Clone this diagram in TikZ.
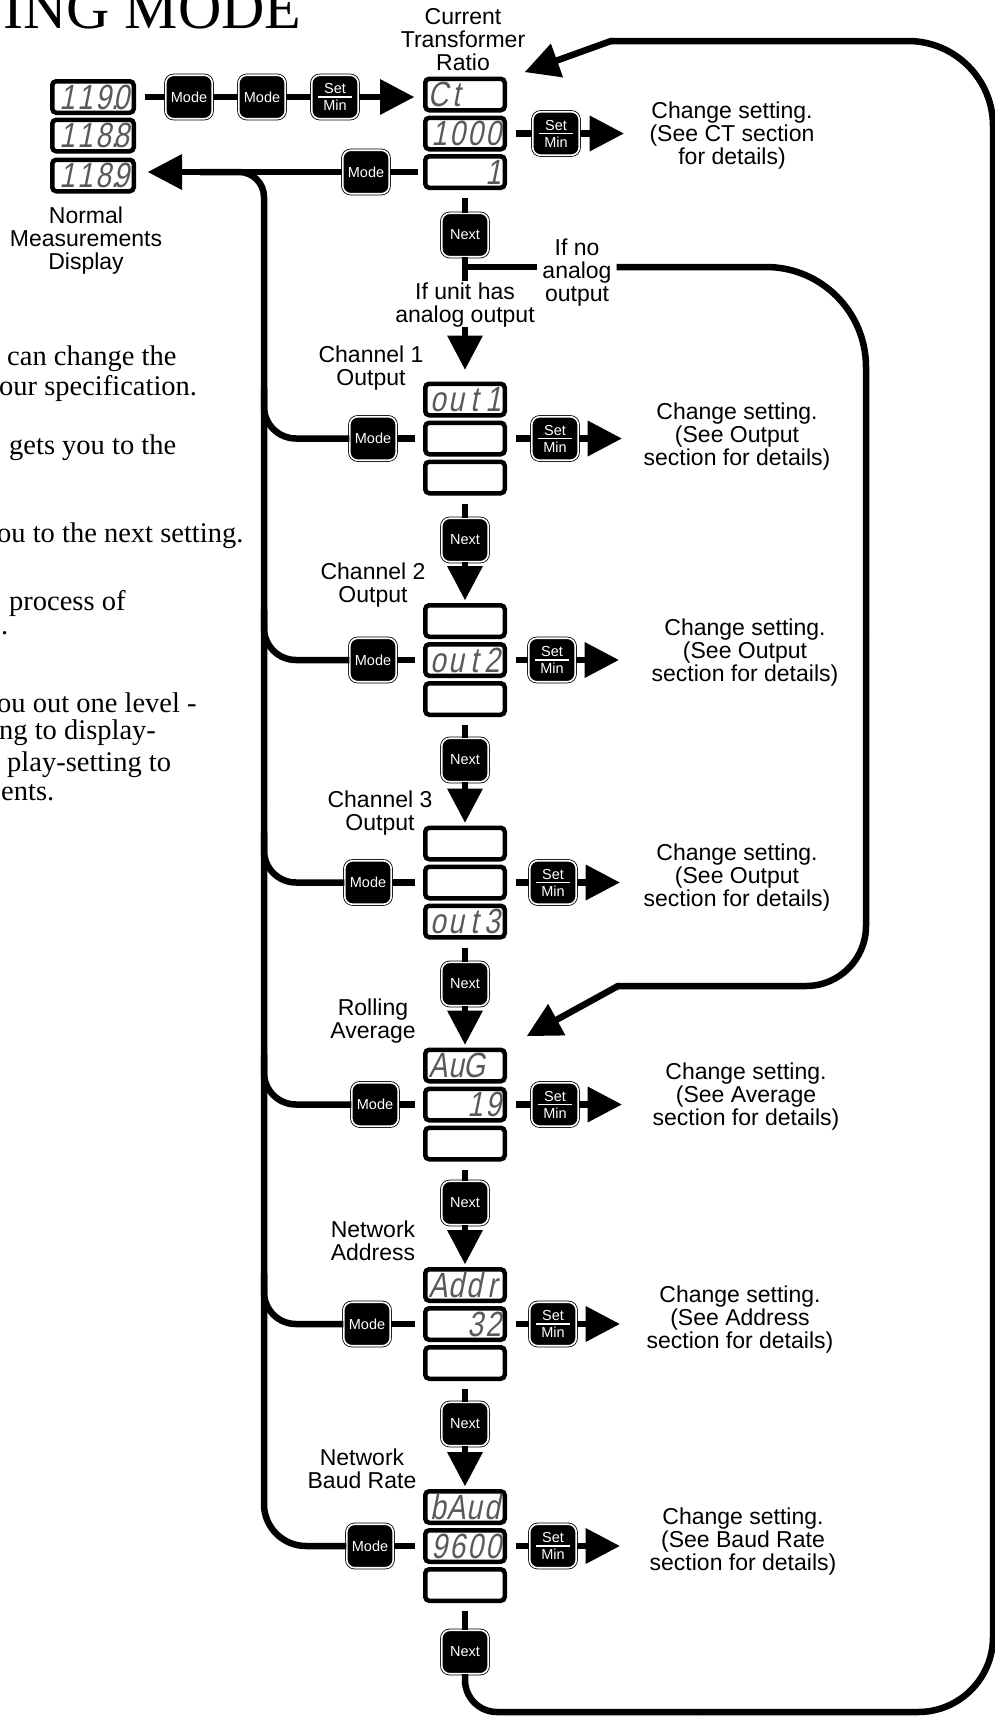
\documentclass[tikz,border=0pt]{standalone}
\usepackage{fontspec}
\setmainfont{Liberation Sans}
\newfontfamily\serifface{Liberation Serif}
\newfontfamily\lcdface[FakeSlant=0.2,FakeStretch=0.8]{Liberation Sans}
\usetikzlibrary{arrows.meta,calc}
\newcommand\lc[2][c]{\makebox[18pt][#1]{#2}}
\begin{document}
\begin{tikzpicture}[x=1pt,y=-1pt,
  conn/.style={line width=6.5pt},
  arr/.style={line width=6.5pt,-{Triangle[length=34pt,width=36pt,line width=0pt]}},
  lcd/.style={draw=black,line width=4.5pt,fill=white,rounded corners=4pt,minimum width=79.5pt,minimum height=31.5pt,inner sep=0pt},
  lcdtxt/.style={font=\lcdface\fontsize{35}{35}\selectfont,text=black!65,inner sep=0pt},
  btn/.style={draw=black,line width=0.8pt,double=white,double distance=1.6pt,fill=black,rounded corners=8pt,minimum width=46.5pt,minimum height=43.5pt,inner sep=0pt,text=white,font=\fontsize{14.5}{17}\selectfont,align=center},
  setmin/.style={btn,path picture={\draw[white,line width=1.3pt] ([xshift=-17pt]path picture bounding box.center) -- ([xshift=17pt]path picture bounding box.center);}},
  lbl/.style={font=\fontsize{23}{23}\selectfont,align=center,inner sep=0pt},
  body/.style={font=\serifface\fontsize{28.5}{28.5}\selectfont,anchor=base west,inner sep=0pt}]
\useasboundingbox (0,0) rectangle (995,1717);
\fill[white] (0,0) rectangle (995,1717);

% ---------- title and body text ----------
\node[font=\serifface\fontsize{60}{60}\selectfont,anchor=base west,inner sep=0pt] (title) at (3,28) {ING MODE};
\node[body] (p1) at (7,365) {can change the};
\node[body] (p2) at (-1,395) {our specification.};
\node[body] (p3) at (9,454.5) {gets you to the};
\node[body] (p4) at (-3,542) {ou to the next setting.};
\node[body] (p5) at (9,610.5) {process of};
\node[body] (p6) at (1,634.5) {.};
\node[body] (p7) at (-3,712.5) {ou out one level -};
\node[body] (p8) at (-1,739) {ng to display-};
\node[body] (p9) at (7,771.5) {play-setting to};
\node[body] (p10) at (1,800.5) {ents.};

% ---------- normal display ----------
\node[lcd,minimum width=81.5pt] (n1) at (93,97) {};
\node[lcd,minimum width=81.5pt] (n2) at (93,135.5) {};
\node[lcd,minimum width=81.5pt] (n3) at (93,175.5) {};
\node[lcdtxt] (tn1) at (n1) {\lc[r]{1}\lc[r]{1}\lc[r]{9\rlap{.}}\lc[r]{0}};
\node[lcdtxt] (tn2) at (n2) {\lc[r]{1}\lc[r]{1}\lc[r]{8\rlap{.}}\lc[r]{8}};
\node[lcdtxt] (tn3) at (n3) {\lc[r]{1}\lc[r]{1}\lc[r]{8\rlap{.}}\lc[r]{9}};
\node[lbl] (nlab) at (86,241) {Normal\\Measurements\\Display};

% ---------- top row ----------
\node[btn] (m0a) at (189,97) {Mode};
\node[btn] (m0b) at (262,97) {Mode};
\node[setmin] (s0a) at (335,97) {Set\\Min};
\draw[conn] ([xshift=9pt]n1.east) -- (m0a.west);
\draw[conn] (m0a.east) -- (m0b.west);
\draw[conn] (m0b.east) -- (s0a.west);

% ---------- CT ----------
\node[lcd] (ct1) at (465,94.5) {};
\node[lcd] (ct2) at (465,133.5) {};
\node[lcd] (ct3) at (465,172) {};
\node[lcdtxt] (tct1) at (ct1) {\lc{C}\lc{t}\lc{}\lc{}};
\node[lcdtxt] (tct2) at (ct2) {\lc[r]{1}\lc[r]{0}\lc[r]{0}\lc[r]{0}};
\node[lcdtxt] (tct3) at (ct3) {\lc{}\lc{}\lc{}\lc[r]{1}};
\node[lbl] (lct) at (463,40) {Current\\Transformer\\Ratio};
\draw[arr,shorten >=9pt] (s0a.east) -- (s0a.east -| ct1.west);
\node[setmin] (sct) at (556,133.5) {Set\\Min};
\coordinate (pct) at ([xshift=44pt]sct.east);
\draw[conn] ([xshift=9pt]ct2.east) -- (sct.west);
\draw[arr] (sct.east) -- (pct);
\node[lbl] (cct) at (732,136) {Change setting.\\(See CT section\\for details)};
\node[btn] (mct) at (366,172) {Mode};
\draw[conn] ([xshift=-5pt]ct3.west) -- (mct.east);
\draw[arr,shorten >=12pt] (mct.west) -- (mct.west -| n3.east);

\node[btn] (x0) at (465,235) {Next};
\draw[conn] ([yshift=-8pt]ct3.south) -- (x0.north);
\coordinate (j0) at (465,267);
\node[lbl] (unit) at (465,305) {If unit has\\analog output};
\draw[conn] (x0.south) -- ([yshift=2pt]unit.north);
\node[lbl,inner xsep=5pt] (noan) at (577,273) {If no\\analog\\output};
\draw[conn] (j0) -- (j0 -| noan.west);

% loop A (no analog output)
\coordinate (ra1) at (866,267);
\coordinate (ram) at (866,640);
\coordinate (ra2) at (866,986);
\coordinate (ra3) at (618,986);
\coordinate (tipA) at (527,1036);
\draw[conn,rounded corners=100] (j0 -| noan.east) -- (ra1) -- (ram);
\draw[conn,rounded corners=60,line cap=round] (ram) -- (ra2) -- (ra3);
\draw[arr,line cap=round] (ra3) -- (tipA);

% left vertical line
\coordinate (vt) at (264,172);
\coordinate (vtl) at (200,172);
\coordinate (vm) at (264,800);

% ---------- Channel 1 ----------
\node[lcd] (a1) at (465,399.5) {};
\node[lcd] (a2) at (465,438.5) {};
\node[lcd] (a3) at (465,477.5) {};
\node[lcdtxt] (ta1) at (a1) {\lc{o}\lc{u}\lc{t}\lc[r]{1}};
\node[lbl] (la) at (371,368.5) {Channel 1\\Output};
\draw[arr,shorten >=12pt] (unit.south) -- (a1.north);
\node[btn] (ma) at (373,438.5) {Mode};
\node[setmin] (sa) at (555,438.5) {Set\\Min};
\node[lbl] (ca) at (737,437) {Change setting.\\(See Output\\section for details)};
\coordinate (pa) at ([xshift=43pt]sa.east);
\draw[conn,rounded corners=32] ($(vt |- ma.west)+(0,-50)$) |- (ma.west);
\draw[conn] (ma.east) -- ([xshift=-8pt]a2.west);
\draw[conn] ([xshift=9pt]a2.east) -- (sa.west);
\draw[arr] (sa.east) -- (pa);
\node[btn] (xa) at (465,540) {Next};
\draw[conn] ([yshift=-8pt]a3.south) -- (xa.north);

% ---------- Channel 2 ----------
\node[lcd] (b1) at (465,621) {};
\node[lcd] (b2) at (465,660) {};
\node[lcd] (b3) at (465,699) {};
\node[lcdtxt] (tb2) at (b2) {\lc{o}\lc{u}\lc{t}\lc{2}};
\node[lbl] (lb) at (373,585) {Channel 2\\Output};
\draw[arr,shorten >=3pt] (xa.south) -- (b1.north);
\node[btn] (mb) at (373,660) {Mode};
\node[setmin] (sb) at (552,660) {Set\\Min};
\node[lbl] (cb) at (745,653) {Change setting.\\(See Output\\section for details)};
\coordinate (pb) at ([xshift=43pt]sb.east);
\draw[conn,rounded corners=32] ($(vt |- mb.west)+(0,-50)$) |- (mb.west);
\draw[conn] (mb.east) -- ([xshift=-8pt]b2.west);
\draw[conn] ([xshift=9pt]b2.east) -- (sb.west);
\draw[arr] (sb.east) -- (pb);
\node[btn] (xb) at (465,760) {Next};
\draw[conn] ([yshift=-8pt]b3.south) -- (xb.north);

% ---------- Channel 3 ----------
\node[lcd] (c1) at (465,843.5) {};
\node[lcd] (c2) at (465,882.5) {};
\node[lcd] (c3) at (465,921.5) {};
\node[lcdtxt] (tc3) at (c3) {\lc{o}\lc{u}\lc{t}\lc{3}};
\node[lbl] (lc) at (380,813) {Channel 3\\Output};
\draw[arr,shorten >=3pt] (xb.south) -- (c1.north);
\node[btn] (mc) at (368,882.5) {Mode};
\node[setmin] (sc) at (553,882.5) {Set\\Min};
\node[lbl] (cc) at (737,878) {Change setting.\\(See Output\\section for details)};
\coordinate (pc) at ([xshift=43pt]sc.east);
\draw[conn,rounded corners=32] ($(vt |- mc.west)+(0,-50)$) |- (mc.west);
\draw[conn] (mc.east) -- ([xshift=-8pt]c2.west);
\draw[conn] ([xshift=9pt]c2.east) -- (sc.west);
\draw[arr] (sc.east) -- (pc);
\node[btn] (xc) at (465,984) {Next};
\draw[conn] ([yshift=-8pt]c3.south) -- (xc.north);

% ---------- Rolling average ----------
\node[lcd] (d1) at (465,1065.5) {};
\node[lcd] (d2) at (465,1104.5) {};
\node[lcd] (d3) at (465,1143.5) {};
\node[lcdtxt] (td1) at (d1) {\lc{A}\lc{u}\lc{G}\lc{}};
\node[lcdtxt] (td2) at (d2) {\lc{}\lc{}\lc[r]{1}\lc[r]{9}};
\node[lbl] (ld) at (373,1021.5) {Rolling\\Average};
\draw[arr,shorten >=3pt] (xc.south) -- (d1.north);
\node[btn] (md) at (375,1104.5) {Mode};
\node[setmin] (sd) at (555,1104.5) {Set\\Min};
\node[lbl] (cd) at (746,1097) {Change setting.\\(See Average\\section for details)};
\coordinate (pd) at ([xshift=43pt]sd.east);
\draw[conn,rounded corners=32] ($(vt |- md.west)+(0,-50)$) |- (md.west);
\draw[conn] (md.east) -- ([xshift=-8pt]d2.west);
\draw[conn] ([xshift=9pt]d2.east) -- (sd.west);
\draw[arr] (sd.east) -- (pd);
\node[btn] (xd) at (465,1203) {Next};
\draw[conn] ([yshift=-8pt]d3.south) -- (xd.north);

% ---------- Network address ----------
\node[lcd] (e1) at (465,1285) {};
\node[lcd] (e2) at (465,1324) {};
\node[lcd] (e3) at (465,1363) {};
\node[lcdtxt] (te1) at (e1) {\lc{A}\lc{d}\lc{d}\lc{r}};
\node[lcdtxt] (te2) at (e2) {\lc{}\lc{}\lc[r]{3}\lc[r]{2}};
\node[lbl] (le) at (373,1241) {Network\\Address};
\draw[arr,shorten >=3pt] (xd.south) -- (e1.north);
\node[btn] (me) at (367,1324) {Mode};
\node[setmin] (se) at (553,1324) {Set\\Min};
\node[lbl] (ce) at (740,1320) {Change setting.\\(See Address\\section for details)};
\coordinate (pe) at ([xshift=43pt]se.east);
\draw[conn,rounded corners=32] ($(vt |- me.west)+(0,-50)$) |- (me.west);
\draw[conn] (me.east) -- ([xshift=-8pt]e2.west);
\draw[conn] ([xshift=9pt]e2.east) -- (se.west);
\draw[arr] (se.east) -- (pe);
\node[btn] (xe) at (465,1424) {Next};
\draw[conn] ([yshift=-8pt]e3.south) -- (xe.north);

% ---------- Baud rate ----------
\node[lcd] (f1) at (465,1507) {};
\node[lcd] (f2) at (465,1546) {};
\node[lcd] (f3) at (465,1585) {};
\node[lcdtxt] (tf1) at (f1) {\lc{b}\lc{A}\lc{u}\lc{d}};
\node[lcdtxt] (tf2) at (f2) {\lc[r]{9}\lc[r]{6}\lc[r]{0}\lc[r]{0}};
\node[lbl] (lf) at (362,1468.5) {Network\\Baud Rate};
\draw[arr,shorten >=3pt] (xe.south) -- (f1.north);
\node[btn] (mf) at (370,1546) {Mode};
\node[setmin] (sf) at (553,1546) {Set\\Min};
\node[lbl] (cf) at (743,1542) {Change setting.\\(See Baud Rate\\section for details)};
\coordinate (pf) at ([xshift=43pt]sf.east);
\draw[conn] (mf.east) -- ([xshift=-8pt]f2.west);
\draw[conn] ([xshift=9pt]f2.east) -- (sf.west);
\draw[arr] (sf.east) -- (pf);
\node[btn] (xf) at (465,1652) {Next};
\draw[conn] ([yshift=-8pt]f3.south) -- (xf.north);

% left vertical collector
\coordinate (vb) at (264,1546);
\draw[conn,rounded corners=25] (vm) -- (vt) -- (vtl);
\draw[conn,rounded corners=42] (vm) -- (vb) -- (mf.west);

% loop B (back to top)
\coordinate (rb0) at (465,1712);
\coordinate (rbm) at (700,1712);
\coordinate (rb1) at (993,1712);
\coordinate (rbn) at (993,900);
\coordinate (rb2) at (993,41);
\coordinate (rb3) at (611,41);
\coordinate (tipB) at (525,72);
\draw[conn,rounded corners=32] (xf.south) -- (rb0) -- (rbm);
\draw[conn,rounded corners=75] (rbm) -- (rb1) -- (rbn);
\draw[conn,rounded corners=85,line cap=round] (rbn) -- (rb2) -- (rb3);
\draw[arr,line cap=round] (rb3) -- (tipB);
\end{tikzpicture}
\end{document}
